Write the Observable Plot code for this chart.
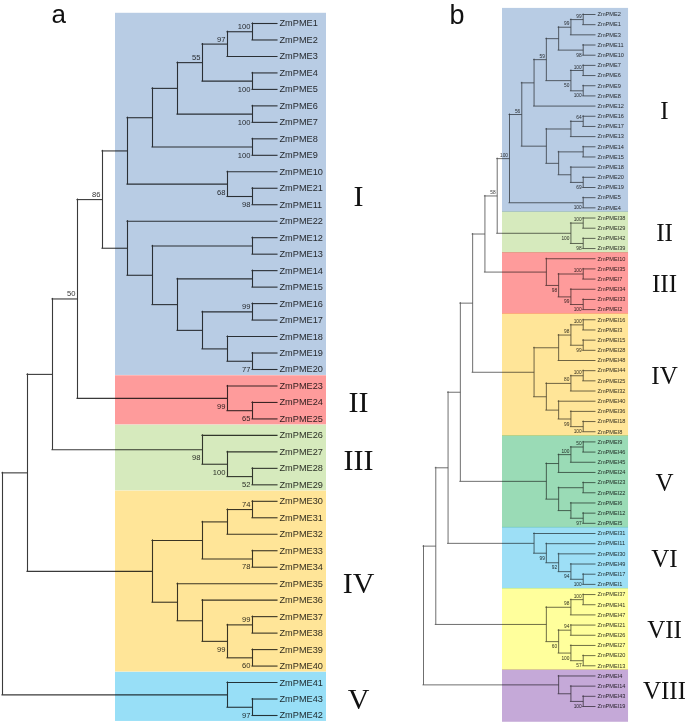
<!DOCTYPE html>
<html>
<head>
<meta charset="utf-8">
<script src="https://cdn.jsdelivr.net/npm/d3@7"></script>
<script src="https://cdn.jsdelivr.net/npm/@observablehq/plot@0.6"></script>
<style>
  html, body { margin: 0; padding: 0; background: #fff; }
  #wrap { position: relative; width: 685px; height: 723px; overflow: hidden; background: #fff; }
  #wrap > svg { position: absolute; top: 0; }
</style>
</head>
<body>
<div id="wrap"></div>
<script>
// ---------------- DATA ----------------
// Tree a (ZmPME): clades in Newick form, internal labels = bootstrap values
const a_I = "(((((((ZmPME1,ZmPME2)100,ZmPME3)97,(ZmPME4,ZmPME5)100)55,(ZmPME6,ZmPME7)100),(ZmPME8,ZmPME9)100),(ZmPME10,(ZmPME21,ZmPME11)98)68),(ZmPME22,((ZmPME12,ZmPME13),((ZmPME14,ZmPME15),((ZmPME16,ZmPME17)99,(ZmPME18,(ZmPME19,ZmPME20)77))))))86";
const a_II = "(ZmPME23,(ZmPME24,ZmPME25)65)99";
const a_III = "(ZmPME26,(ZmPME27,(ZmPME28,ZmPME29)52)100)98";
const a_IV = "((((ZmPME30,ZmPME31)74,ZmPME32),(ZmPME33,ZmPME34)78),(ZmPME35,(ZmPME36,((ZmPME37,ZmPME38)99,(ZmPME39,ZmPME40)60)99)))";
const a_V = "(ZmPME41,(ZmPME43,ZmPME42)97)";
const treeA = `((((${a_I},${a_II})50,${a_III}),${a_IV}),${a_V})`;
const cladeNamesA = ["I", "II", "III", "IV", "V"];
const cladeTreesA = [a_I, a_II, a_III, a_IV, a_V];
const cladeColorsA = ["#b8cce4", "#fe9b9b", "#d6eabd", "#ffe598", "#98dff7"];

// Tree b (ZmPME / ZmPMEI)
const b_I = "(((((((ZmPME2,ZmPME1)99,ZmPME3)99,(ZmPME11,ZmPME10)98),((ZmPME7,ZmPME6)100,(ZmPME9,ZmPME8)100)50)59,ZmPME12),(((ZmPME16,ZmPME17)64,ZmPME13),((ZmPME14,ZmPME15),(ZmPME18,(ZmPME20,ZmPME19)69))))56,(ZmPME5,ZmPME4)100)100";
const b_II = "((ZmPMEI38,ZmPMEI29)100,(ZmPMEI42,ZmPMEI39)98)100";
const b_III = "(ZmPMEI10,((ZmPMEI35,ZmPMEI7)100,(ZmPMEI34,(ZmPMEI33,ZmPMEI2)100)99)98)";
const b_IV = "((((ZmPMEI16,ZmPMEI3)100,(ZmPMEI15,ZmPMEI28)99)98,ZmPMEI48),(((ZmPMEI44,ZmPMEI25)100,ZmPMEI32)80,(ZmPMEI40,(ZmPMEI36,(ZmPMEI18,ZmPMEI8)100)99)))";
const b_V = "((((ZmPMEI9,ZmPMEI46)50,ZmPMEI45)100,ZmPMEI24),((ZmPMEI23,ZmPMEI22),(ZmPMEI6,(ZmPMEI12,ZmPMEI5)97)))";
const b_VI = "(ZmPMEI31,(ZmPMEI11,(ZmPMEI30,(ZmPMEI49,(ZmPMEI17,ZmPMEI1)100)94)92)99)";
const b_VII = "(((ZmPMEI37,ZmPMEI41)100,ZmPMEI47)98,((ZmPMEI21,ZmPMEI26)94@2,(ZmPMEI27,(ZmPMEI20,ZmPMEI13)57)100)60)";
const b_VIII = "(ZmPMEI4,(ZmPMEI14,(ZmPMEI43,ZmPMEI19)100))";
const treeB = `(((((((${b_I},${b_II})58,${b_III}),${b_IV}),${b_V}),${b_VI}),${b_VII}),${b_VIII})`;
const cladeNamesB = ["I", "II", "III", "IV", "V", "VI", "VII", "VIII"];
const cladeTreesB = [b_I, b_II, b_III, b_IV, b_V, b_VI, b_VII, b_VIII];
const cladeColorsB = ["#b8cce4", "#d6eabd", "#fe9b9b", "#ffe598", "#9adbb6", "#9ddff6", "#ffff9c", "#c5a9d8"];

// ---------------- HELPERS ----------------
function parseNewick(s) {
  let i = 0;
  function node() {
    const n = {children: null, name: "", label: ""};
    if (s[i] === "(") {
      i++;
      n.children = [node()];
      while (s[i] === ",") { i++; n.children.push(node()); }
      i++; // ")"
    }
    const start = i;
    while (i < s.length && !",)".includes(s[i])) i++;
    const tok = s.slice(start, i);
    if (n.children) n.label = tok; else n.name = tok;
    return n;
  }
  return node();
}

function layoutTree(str) {
  const root = parseNewick(str);
  let idx = 0;
  const leaves = [], verts = [], horiz = [], bootUp = [], bootDown = [];
  (function lay(n) {
    if (!n.children) { n.y = idx++; n.h = 0; leaves.push(n); return; }
    n.children.forEach(lay);
    const parts = n.label.split("@");
    n.boot = parts[0];
    n.h = parts[1] ? +parts[1] : 1 + d3.max(n.children, c => c.h);
    n.y = (n.children[0].y + n.children[n.children.length - 1].y) / 2;
  })(root);
  (function walk(n) {
    if (!n.children) return;
    verts.push({x: n.h, y1: n.children[0].y, y2: n.children[n.children.length - 1].y});
    n.children.forEach((c, k) => {
      horiz.push({y: c.y, x1: n.h, x2: c.h});
      if (c.children && c.boot) (k === 0 ? bootUp : bootDown).push({x: c.h, y: c.y, t: c.boot});
      walk(c);
    });
  })(root);
  return {leaves, verts, horiz, bootUp, bootDown, n: idx};
}

function cladeBoxes(tree, names, trees, colors, padTop, padBot, lastExtra) {
  const pos = new Map(tree.leaves.map(l => [l.name, l.y]));
  return names.map((name, k) => {
    const ls = [];
    (function g(n) { if (!n.children) ls.push(n.name); else n.children.forEach(g); })(parseNewick(trees[k]));
    const ys = ls.map(l => pos.get(l));
    const a = d3.min(ys), b = d3.max(ys);
    return {name, color: colors[k], y1: a - padTop, y2: b + padBot + (k === names.length - 1 ? lastExtra : 0), ym: (a + b) / 2};
  });
}

// ---------------- CHART a ----------------
const TA = layoutTree(treeA);
const boxesA = cladeBoxes(TA, cladeNamesA, cladeTreesA, cladeColorsA, 0.62, 0.36, 0);
const lineA = {stroke: "#3a3a3a", strokeWidth: 1.1, strokeLinecap: "square"};
const plotA = Plot.plot({
  width: 400, height: 723, margin: 0,
  x: {domain: [11, 0], range: [2, 277], axis: null},
  y: {domain: [0, TA.n - 1], range: [23, 715], axis: null},
  color: {type: "identity"},
  style: {background: "transparent", fontFamily: "'Liberation Sans', Arial, sans-serif", overflow: "visible"},
  marks: [
    Plot.ruleX(TA.verts, {x: "x", y1: "y1", y2: "y2", ...lineA}),
    Plot.ruleY(TA.horiz, {y: "y", x1: "x1", x2: "x2", ...lineA}),
    Plot.text(TA.leaves, {x: "h", y: "y", text: "name", textAnchor: "start", dx: 2, fontSize: 9.2, fill: "#333"}),
    Plot.text(TA.bootUp, {x: "x", y: "y", text: "t", textAnchor: "end", dx: -2, dy: -5, fontSize: 7.6, fill: "#333"}),
    Plot.text(TA.bootDown, {x: "x", y: "y", text: "t", textAnchor: "end", dx: -2, dy: 8, fontSize: 7.6, fill: "#333"}),
    Plot.rect(boxesA, {x1: 6.48, x2: -1.96, y1: "y1", y2: "y2", fill: "color", mixBlendMode: "multiply"}),
    Plot.text(boxesA, {frameAnchor: "right", dx: -42, y: "ym", text: "name", fontSize: 30, fontFamily: "'Liberation Serif', 'Times New Roman', serif", textAnchor: "middle", fill: "#111"}),
    Plot.text(["a"], {frameAnchor: "top-left", lineAnchor: "top", dx: 51, dy: 4, text: d => d, textAnchor: "start", fontSize: 26, fill: "#111"})
  ]
});
plotA.style.left = "0px";

// ---------------- CHART b ----------------
const TB = layoutTree(treeB);
const boxesB = cladeBoxes(TB, cladeNamesB, cladeTreesB, cladeColorsB, 0.6, 0.45, 1.1);
const lineB = {stroke: "#4a4a4a", strokeWidth: 0.8, strokeLinecap: "square"};
const plotB = Plot.plot({
  width: 285, height: 723, margin: 0,
  x: {domain: [14, 0], range: [23, 195], axis: null},
  y: {domain: [0, TB.n - 1], range: [14, 706], axis: null},
  color: {type: "identity"},
  style: {background: "transparent", fontFamily: "'Liberation Sans', Arial, sans-serif", overflow: "visible"},
  marks: [
    Plot.ruleX(TB.verts, {x: "x", y1: "y1", y2: "y2", ...lineB}),
    Plot.ruleY(TB.horiz, {y: "y", x1: "x1", x2: "x2", ...lineB}),
    Plot.text(TB.leaves, {x: "h", y: "y", text: "name", textAnchor: "start", dx: 2, fontSize: 5.6, fill: "#333"}),
    Plot.text(TB.bootUp, {x: "x", y: "y", text: "t", textAnchor: "end", dx: -1.5, dy: -3.5, fontSize: 4.8, fill: "#333"}),
    Plot.text(TB.bootDown, {x: "x", y: "y", text: "t", textAnchor: "end", dx: -1.5, dy: 5, fontSize: 4.8, fill: "#333"}),
    Plot.rect(boxesB, {x1: 7.57, x2: -2.69, y1: "y1", y2: "y2", fill: "color", mixBlendMode: "multiply"}),
    Plot.text(boxesB, {frameAnchor: "right", dx: -21, y: "ym", text: "name", fontSize: 25, fontFamily: "'Liberation Serif', 'Times New Roman', serif", textAnchor: "middle", fill: "#111"}),
    Plot.text(["b"], {frameAnchor: "top-left", lineAnchor: "top", dx: 49, dy: 4, text: d => d, textAnchor: "start", fontSize: 27, fill: "#111"})
  ]
});
plotB.style.left = "400px";

const wrap = document.getElementById("wrap");
wrap.appendChild(plotA);
wrap.appendChild(plotB);
</script>
</body>
</html>
